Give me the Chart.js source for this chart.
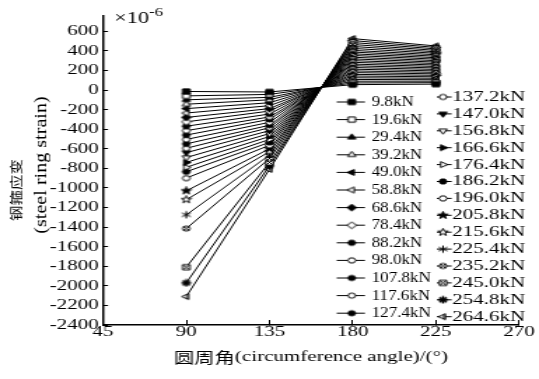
<!DOCTYPE html>
<html>
<head>
<meta charset="utf-8">
<script src="https://cdn.jsdelivr.net/npm/chart.js@4.4.0/dist/chart.umd.min.js"></script>
<style>
html, body { margin: 0; padding: 0; background: #fff; overflow: hidden; }
/* the source figure is stretched sideways, so the chart is drawn narrow and widened */
#wrap { position: absolute; left: 0; top: 0; width: 385px; height: 379px; transform: scaleX(1.4); transform-origin: 0 0; }
</style>
</head>
<body>
<div id="wrap"><canvas id="chart"></canvas></div>
<script>
const angles = [90, 135, 180, 225];
const loads = ['9.8kN', '19.6kN', '29.4kN', '39.2kN', '49.0kN', '58.8kN', '68.6kN', '78.4kN', '88.2kN',
    '98.0kN', '107.8kN', '117.6kN', '127.4kN', '137.2kN', '147.0kN', '156.8kN', '166.6kN', '176.4kN',
    '186.2kN', '196.0kN', '205.8kN', '215.6kN', '225.4kN', '235.2kN', '245.0kN', '254.8kN', '264.6kN'];

// strain (x10^-6) at each angle, one value per load step
const strain90 = [-15, -60, -100, -145, -190, -235, -280, -325, -370, -415, -460, -505, -550, -595,
    -640, -690, -740, -790, -835, -900, -1030, -1120, -1275, -1415, -1810, -1970, -2110];
const strain135 = [-20, -45, -75, -100, -130, -160, -190, -215, -245, -275, -300, -330, -360, -385,
    -415, -445, -475, -505, -535, -565, -600, -630, -665, -700, -740, -775, -810];
const strain180 = [55, 72, 90, 108, 125, 143, 160, 178, 195, 213, 230, 248, 265, 283,
    300, 318, 335, 353, 370, 388, 405, 425, 445, 465, 485, 505, 525];
const strain225 = [60, 75, 90, 105, 120, 135, 150, 165, 180, 195, 210, 225, 240, 255,
    270, 285, 300, 315, 330, 345, 360, 375, 390, 405, 420, 435, 450];

const xTicks = [45, 90, 135, 180, 225, 270];
const yTicks = [600, 400, 200, 0, -200, -400, -600, -800, -1000, -1200, -1400, -1600, -1800, -2000, -2200, -2400];

const markers = ['sqF', 'sqO', 'triUF', 'triUO', 'triLF', 'triLO', 'diaF', 'diaO', 'hexF', 'hexO',
    'cirF', 'cirO', 'cirF', 'cirO', 'triDF', 'triDO', 'triRF', 'triRO', 'hexF', 'hexO',
    'starF', 'starO', 'ast', 'cirX', 'sqX', 'astB', 'triLX'];

const serif = "'Liberation Serif', 'Times New Roman', serif";
const cjk = "'Noto Sans CJK SC', 'Liberation Serif', sans-serif";

function makeMarker(kind) {
    const cv = document.createElement('canvas');
    cv.width = 9;
    cv.height = 9;
    const g = cv.getContext('2d');
    const c = 4.5, r = 2.6;
    const filled = kind.endsWith('F');
    const shape = kind.replace(/[FO]$/, '');
    g.lineWidth = 1;
    g.strokeStyle = '#000';
    g.fillStyle = filled ? '#000' : '#fff';

    const poly = (n, rad, rot) => {
        g.beginPath();
        for (let k = 0; k < n; k++) {
            const a = rot + k * 2 * Math.PI / n;
            const px = c + rad * Math.cos(a), py = c + rad * Math.sin(a);
            if (k) g.lineTo(px, py); else g.moveTo(px, py);
        }
        g.closePath();
    };
    const spokes = (n, rad) => {
        g.beginPath();
        for (let k = 0; k < n; k++) {
            const a = Math.PI / 2 + k * Math.PI / n;
            g.moveTo(c - rad * Math.cos(a), c - rad * Math.sin(a));
            g.lineTo(c + rad * Math.cos(a), c + rad * Math.sin(a));
        }
        g.stroke();
    };

    if (shape === 'sq' || shape === 'sqX') {
        g.beginPath();
        g.rect(c - r, c - r, 2 * r, 2 * r);
    } else if (shape === 'triU') poly(3, r * 1.3, -Math.PI / 2);
    else if (shape === 'triD') poly(3, r * 1.3, Math.PI / 2);
    else if (shape === 'triL' || shape === 'triLX') poly(3, r * 1.3, Math.PI);
    else if (shape === 'triR') poly(3, r * 1.3, 0);
    else if (shape === 'dia') poly(4, r * 1.3, 0);
    else if (shape === 'hex') poly(6, r * 1.1, 0);
    else if (shape === 'cir' || shape === 'cirX') {
        g.beginPath();
        g.arc(c, c, r, 0, Math.PI * 2);
    } else if (shape === 'star') {
        g.beginPath();
        for (let k = 0; k < 10; k++) {
            const a = -Math.PI / 2 + k * Math.PI / 5;
            const rad = k % 2 ? r * 0.6 : r * 1.5;
            const px = c + rad * Math.cos(a), py = c + rad * Math.sin(a);
            if (k) g.lineTo(px, py); else g.moveTo(px, py);
        }
        g.closePath();
    }

    if (shape === 'ast') {
        spokes(3, r * 1.4);
    } else if (shape === 'astB') {
        g.lineWidth = 1.5;
        spokes(4, r * 1.4);
    } else {
        g.fill();
        g.stroke();
    }
    if (shape === 'cirX' || shape === 'sqX') {
        g.beginPath();
        g.moveTo(c - r * 0.8, c - r * 0.8); g.lineTo(c + r * 0.8, c + r * 0.8);
        g.moveTo(c + r * 0.8, c - r * 0.8); g.lineTo(c - r * 0.8, c + r * 0.8);
        g.stroke();
    }
    if (shape === 'triLX') {
        g.beginPath();
        g.moveTo(c + 0.5, c - r); g.lineTo(c + 0.5, c + r);
        g.stroke();
    }
    return cv;
}

const markerImages = markers.map(makeMarker);

const datasets = loads.map((label, i) => ({
    label: label,
    data: angles.map((a, j) => ({ x: a, y: [strain90, strain135, strain180, strain225][j][i] })),
    borderColor: '#000',
    borderWidth: 1,
    pointStyle: markerImages[i],
    pointRadius: 4,
    tension: 0
}));

// text and legend laid out like the figure
const figureText = {
    id: 'figureText',
    afterDraw(chart) {
        const ctx = chart.ctx;
        const area = chart.chartArea;
        ctx.save();
        ctx.fillStyle = '#000';
        ctx.strokeStyle = '#000';

        // x10^-6 above the axis
        ctx.textBaseline = 'middle';
        ctx.textAlign = 'left';
        ctx.font = '16px ' + serif;
        ctx.fillText('×10', 81.5, 18.5);
        ctx.font = '12px ' + serif;
        ctx.fillText('-6', 106.5, 12.5);

        // y title, two rotated lines
        ctx.textAlign = 'center';
        ctx.save();
        ctx.translate(11.6, 190);
        ctx.rotate(-Math.PI / 2);
        ctx.scale(1, 0.62);
        ctx.font = '15.5px ' + cjk;
        ctx.fillText('钢箍应变', 0, 0);
        ctx.restore();
        ctx.save();
        ctx.translate(29.6, 165);
        ctx.rotate(-Math.PI / 2);
        ctx.scale(1.34, 0.78);
        ctx.font = '15px ' + serif;
        ctx.fillText('(steel ring strain)', 0, 0);
        ctx.restore();

        // x title, mixed CJK and Latin
        const zh = '圆周角', en = '(circumference angle)/(°)';
        ctx.font = '14.5px ' + cjk;
        const wz = ctx.measureText(zh).width;
        ctx.font = '15px ' + serif;
        const we = ctx.measureText(en).width;
        const x0 = (area.left + area.right) / 2 - (wz + we) / 2;
        ctx.textAlign = 'left';
        ctx.font = '14.5px ' + cjk;
        ctx.fillText(zh, x0, 357);
        ctx.font = '15px ' + serif;
        ctx.fillText(en, x0 + wz, 357);

        // legend in two columns, the left one set narrower as in the figure
        ctx.lineWidth = 1;
        chart.data.datasets.forEach((ds, i) => {
            const col = i < 13 ? 0 : 1;
            const row = col ? i - 13 : i;
            const y = col ? 97 + row * 16.9 : 102 + row * 17.6;
            const lx0 = col ? 312 : 240.5, lx1 = col ? 322.6 : 260.7;
            const mx = col ? 316.4 : 251.2, tx = col ? 322.9 : 265.5;
            ctx.beginPath();
            ctx.moveTo(lx0, y);
            ctx.lineTo(lx1, y);
            ctx.stroke();
            const img = ds.pointStyle;
            ctx.drawImage(img, mx - img.width / 2, y - img.height / 2);
            ctx.textBaseline = 'middle';
            ctx.font = '15px ' + serif;
            ctx.save();
            ctx.translate(tx, y);
            ctx.scale(col ? 1 : 0.81, 1);
            ctx.fillText(ds.label, 0, 0);
            ctx.restore();
        });
        ctx.restore();
    }
};

Chart.defaults.font.family = serif;
Chart.defaults.font.size = 15;
Chart.defaults.color = '#000';

new Chart(document.getElementById('chart'), {
    type: 'line',
    data: { datasets: datasets },
    options: {
        responsive: true,
        maintainAspectRatio: false,
        animation: false,
        events: [],
        layout: { padding: { top: 13, right: 7.9, left: 0, bottom: 0 } },
        plugins: {
            legend: { display: false },
            tooltip: { enabled: false }
        },
        scales: {
            x: {
                type: 'linear',
                min: 45,
                max: 270,
                afterBuildTicks: axis => { axis.ticks = xTicks.map(v => ({ value: v })); },
                afterFit: axis => { axis.height = 54; },
                ticks: { autoSkip: false, maxRotation: 0, padding: 3, color: '#000', callback: v => String(v) },
                grid: { drawOnChartArea: false, tickLength: -5, color: '#000', tickWidth: 1 },
                border: { color: '#000', width: 1.5 }
            },
            y: {
                min: -2400,
                max: 760,
                afterBuildTicks: axis => { axis.ticks = yTicks.map(v => ({ value: v })); },
                afterFit: axis => { axis.width = 73.6; },
                ticks: { autoSkip: false, padding: 6.6, color: '#000', callback: v => String(v) },
                grid: { drawOnChartArea: false, tickLength: -3.6, color: '#000', tickWidth: 1 },
                border: { color: '#000', width: 1.5 }
            }
        }
    },
    plugins: [figureText]
});
</script>
</body>
</html>
